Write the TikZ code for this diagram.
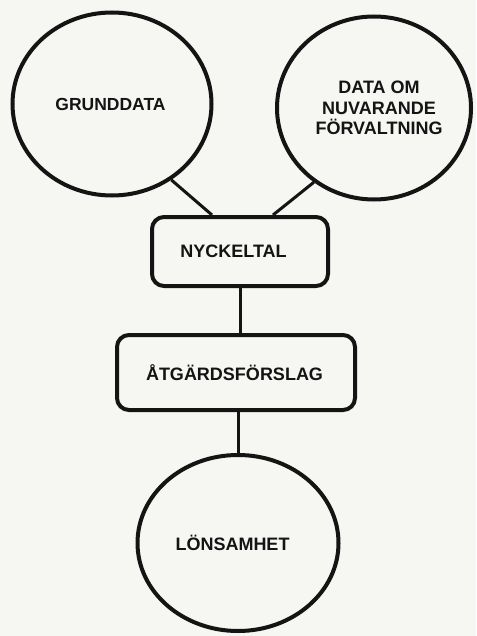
\documentclass[tikz,border=0pt]{standalone}
\usepackage{fontspec}
\setmainfont{Liberation Sans}
\usetikzlibrary{shapes.geometric}
\definecolor{paper}{RGB}{246,246,243}
\definecolor{ink}{RGB}{20,20,20}
\begin{document}
\begin{tikzpicture}[x=1pt,y=-1pt,
  label text/.style={font=\bfseries\fontsize{18}{20.5}\selectfont, text=ink, align=center},
  bubble/.style={ellipse, draw=ink, line width=4pt, inner sep=0pt, label text},
  card/.style={rectangle, rounded corners=12pt, draw=ink, line width=4pt, inner sep=0pt, label text},
  link/.style={draw=ink, line width=3pt}]
  % page
  \fill[paper] (0,0) rectangle (476,636);
  \useasboundingbox (0,0) rectangle (476,636);

  % source bubbles
  \node[bubble, minimum width=199pt, minimum height=183pt] (grund) at (112,104)
    {\hspace*{-3pt}\raisebox{-1pt}{\fontsize{17.5}{20}\selectfont GRUNDDATA}};
  \node[bubble, minimum width=194pt, minimum height=183pt] (dataom) at (374,108)
    {\hspace*{10pt}DATA OM\\\hspace*{10pt}NUVARANDE\\\hspace*{10pt}FÖRVALTNING};

  % key figures and proposals
  \node[card, minimum width=176pt, minimum height=69pt] (nyckel) at (240,251.5)
    {\hspace*{-13pt}\raisebox{-1pt}{NYCKELTAL}};
  \node[card, minimum width=238pt, minimum height=75pt] (atgard) at (236,372.5)
    {\hspace*{-3pt}\raisebox{-2.5pt}{ÅTGÄRDSFÖRSLAG}};

  % outcome bubble
  \node[bubble, minimum width=201pt, minimum height=176pt] (lons) at (238,543)
    {\hspace*{-11pt}\raisebox{-4pt}{LÖNSAMHET}};

  % connectors
  \draw[link] (grund.-52) -- ([xshift=-28pt]nyckel.north);
  \draw[link] (dataom.-129) -- ([xshift=33pt]nyckel.north);
  \draw[link] (nyckel.south) -- (nyckel.south |- atgard.north);
  \draw[link] (lons.north |- atgard.south) -- (lons.north);
\end{tikzpicture}
\end{document}
